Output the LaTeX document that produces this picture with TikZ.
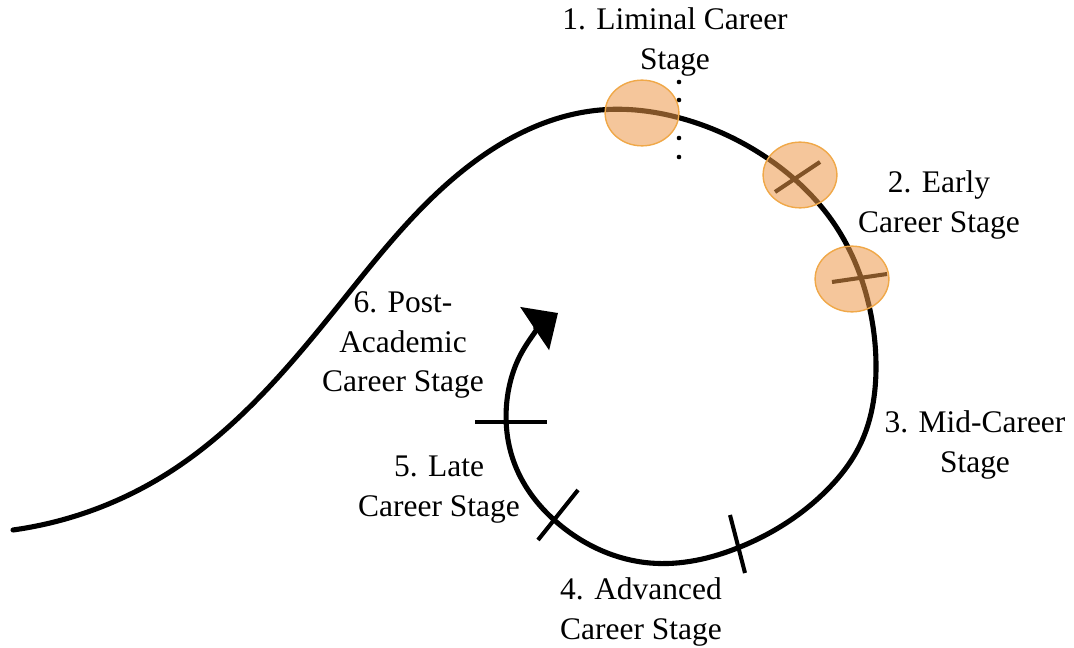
\documentclass[tikz,border=0pt]{standalone}
\usepackage{fontspec}
\setmainfont{Liberation Serif}
\usepackage{xcolor}
\usepackage{tikz}
\usetikzlibrary{arrows.meta}
\usetikzlibrary{hobby}
\definecolor{ringfill}{RGB}{236,152,72}
\definecolor{ringedge}{RGB}{240,168,72}
\tikzstyle{careerline} = [draw, line width=2.9pt, line cap=round, use Hobby shortcut]
\tikzstyle{stagetick} = [draw, line width=2.3pt]
\tikzstyle{stagering} = [draw=ringedge, line width=0.8pt, fill=ringfill, fill opacity=0.55]
\tikzstyle{stagetext} = [align=center, inner sep=0pt, font=\fontsize{17.9}{22.7}\selectfont]

\begin{document}
\begin{tikzpicture}[x=0.02cm, y=-0.02cm]
    \useasboundingbox (0,0) rectangle (1074,648);
    %% The career path
    \path [careerline, -{Triangle[length=16pt, width=29pt]}]
      (13,530) .. (165,475) .. (335,310) .. (455,177) .. (600,110) .. (680,118)
      .. (770,160) .. (835,225) .. (870,310) .. (876,367)
      .. (860,445) .. (827,490) .. (740,547) .. (650,563) .. (560,525) .. (515,465)
      .. (507,400) .. (522,352) .. (558,313);
    %% Stage boundaries
    \path [stagetick] (775,192) -- (820,162);
    \path [stagetick] (832,282) -- (887,274);
    \path [stagetick] (730,515) -- (745,573);
    \path [stagetick] (578,490) -- (538,540);
    \path [stagetick] (475,422) -- (547,422);
    \foreach \y in {82,100,138,157}
      \fill (679,\y) circle (1.3pt);
    %% Highlighted stages
    \path [stagering] (642,113) ellipse [x radius=21pt, y radius=18.7pt];
    \path [stagering] (800,175) ellipse [x radius=21pt, y radius=18.7pt];
    \path [stagering] (852,279) ellipse [x radius=21pt, y radius=18.7pt];
    %% Labels
    \node [stagetext] (liminal) at (675,42) {1. Liminal Career\\Stage};
    \node [stagetext] (early) at (939,205) {2. Early\\Career Stage};
    \node [stagetext] (mid) at (975,445) {3. Mid-Career\\Stage};
    \node [stagetext] (advanced) at (641,612) {4. Advanced\\Career Stage};
    \node [stagetext] (late) at (439,490) {5. Late\\Career Stage};
    \node [stagetext] (post) at (403,345) {6. Post-\\Academic\\Career Stage};
  \end{tikzpicture}
\end{document}
